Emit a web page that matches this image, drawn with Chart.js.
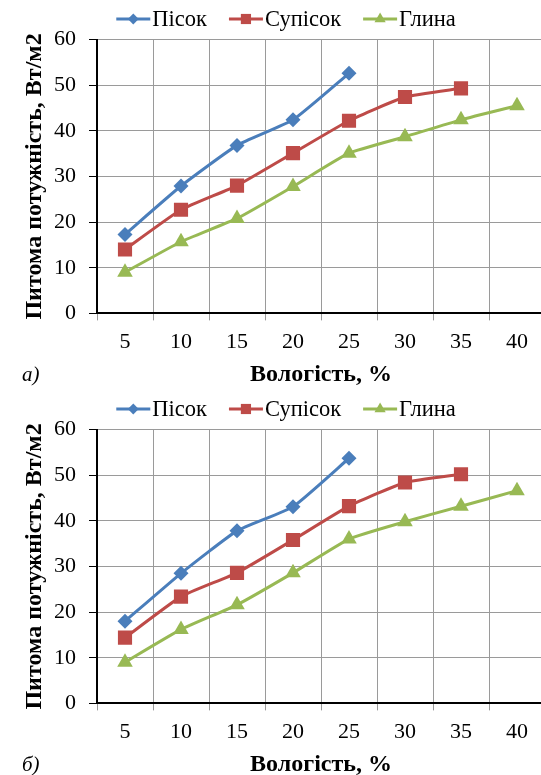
<!DOCTYPE html>
<html>
<head>
<meta charset="utf-8">
<script src="https://cdn.jsdelivr.net/npm/chart.js@4.4.1/dist/chart.umd.min.js"></script>
<style>
body { margin: 0; width: 541px; height: 775px; overflow: hidden; background: #fff; position: relative; }
canvas { position: absolute; left: 0; }
#chartA { top: 0; }
#chartB { top: 390px; }
.tag { position: absolute; left: 22px; font: italic 21px "Liberation Serif"; line-height: 24px; }
</style>
</head>
<body>
<canvas id="chartA" width="560" height="390"></canvas>
<canvas id="chartB" width="560" height="390"></canvas>
<div class="tag" style="top:362px">а)</div>
<div class="tag" style="top:752px">б)</div>
<script>
// вологість, %
var moisture = ['5', '10', '15', '20', '25', '30', '35', '40'];
var seriesNames = ['Пісок', 'Супісок', 'Глина'];
var seriesColors = ['#4a7ebb', '#be4b48', '#98b954'];
var seriesMarkers = ['rectRot', 'rect', 'triangle'];
var markerSizes = [7.5, 10, 9];

// графік а)
var sandA = [17.3, 27.9, 36.8, 42.4, 52.6];
var loamA = [14.0, 22.7, 28.0, 35.1, 42.2, 47.4, 49.3];
var clayA = [9.0, 15.7, 20.8, 27.8, 35.1, 38.7, 42.4, 45.5];

// графік б)
var sandB = [18.0, 28.5, 37.8, 43.1, 53.7];
var loamB = [14.4, 23.4, 28.6, 35.8, 43.2, 48.4, 50.2];
var clayB = [9.0, 16.2, 21.6, 28.6, 36.0, 39.8, 43.2, 46.6];

var yTicks = [0, 10, 20, 30, 40, 50, 60];

var serif = '"Liberation Serif", "Times New Roman", serif';

function drawMarker(ctx, style, x, y, r) {
    ctx.beginPath();
    if (style == 'rectRot') {
        ctx.moveTo(x - r, y); ctx.lineTo(x, y - r); ctx.lineTo(x + r, y); ctx.lineTo(x, y + r);
    } else if (style == 'rect') {
        var s = r * Math.SQRT1_2;
        ctx.rect(x - s, y - s, 2 * s, 2 * s);
    } else {
        ctx.moveTo(x, y - r);
        ctx.lineTo(x + r * 0.866, y + r * 0.5);
        ctx.lineTo(x - r * 0.866, y + r * 0.5);
    }
    ctx.closePath();
    ctx.fill();
}

// legend like the Excel one: line with marker, text right after it
var excelLegend = {
    id: 'excelLegend',
    afterDraw: function(chart) {
        var ctx = chart.ctx;
        var sets = chart.data.datasets;
        ctx.save();
        ctx.font = '22.5px ' + serif;
        var widths = sets.map(function(d) { return 34 + 2 + ctx.measureText(d.label).width; });
        var total = widths.reduce(function(a, b) { return a + b; }, 0) + 22 * (sets.length - 1);
        var x = 286 - total / 2;
        var y = 19;
        sets.forEach(function(d, i) {
            ctx.strokeStyle = d.borderColor;
            ctx.fillStyle = d.backgroundColor;
            ctx.lineWidth = 3;
            ctx.beginPath();
            ctx.moveTo(x, y);
            ctx.lineTo(x + 34, y);
            ctx.stroke();
            drawMarker(ctx, d.pointStyle, x + 17, y, d.pointRadius * 0.72);
            ctx.fillStyle = '#000';
            ctx.textBaseline = 'middle';
            ctx.fillText(d.label, x + 36, y + 1);
            x += widths[i] + 22;
        });
        ctx.restore();
    }
};

function makeChart(id, values) {
    var datasets = [];
    for (var i = 0; i < values.length; i++) {
        datasets.push({
            label: seriesNames[i],
            data: values[i],
            borderColor: seriesColors[i],
            backgroundColor: seriesColors[i],
            pointBorderColor: seriesColors[i],
            pointBackgroundColor: seriesColors[i],
            pointStyle: seriesMarkers[i],
            pointRadius: markerSizes[i],
            pointBorderWidth: 0,
            borderWidth: 3,
            tension: 0.15
        });
    }
    return new Chart(document.getElementById(id), {
        type: 'line',
        data: { labels: moisture, datasets: datasets },
        plugins: [excelLegend],
        options: {
            responsive: false,
            animation: false,
            layout: { padding: { top: 39.5, right: 15, left: 0, bottom: 0 } },
            plugins: { legend: { display: false }, tooltip: { enabled: false } },
            scales: {
                x: {
                    offset: true,
                    grid: { offset: true, color: '#9a9a9a', lineWidth: 1, tickLength: 7, tickColor: '#9a9a9a' },
                    border: { color: '#000', width: 2 },
                    ticks: { color: '#000', font: { family: serif, size: 22 }, padding: 9, maxRotation: 0 },
                    title: { display: true, text: 'Вологість, %', color: '#000',
                             font: { family: serif, size: 24, weight: 'bold' }, padding: { top: 0, bottom: 1 } },
                    afterFit: function(scale) { scale.height = 390 - 313.4; }
                },
                y: {
                    min: 0,
                    max: 60,
                    afterBuildTicks: function(scale) { scale.ticks = yTicks.map(function(v) { return { value: v }; }); },
                    grid: { color: '#9a9a9a', lineWidth: 1, tickLength: 8, tickColor: '#000' },
                    border: { color: '#000', width: 2 },
                    ticks: { color: '#000', font: { family: serif, size: 22 }, padding: 13 },
                    title: { display: true, text: 'Питома потужність, Вт/м2', color: '#000',
                             font: { family: serif, size: 24, weight: 'bold' }, padding: { top: 20, bottom: 0 } },
                    afterFit: function(scale) { scale.width = 97; }
                }
            }
        }
    });
}

makeChart('chartA', [sandA, loamA, clayA]);
makeChart('chartB', [sandB, loamB, clayB]);
</script>
</body>
</html>
